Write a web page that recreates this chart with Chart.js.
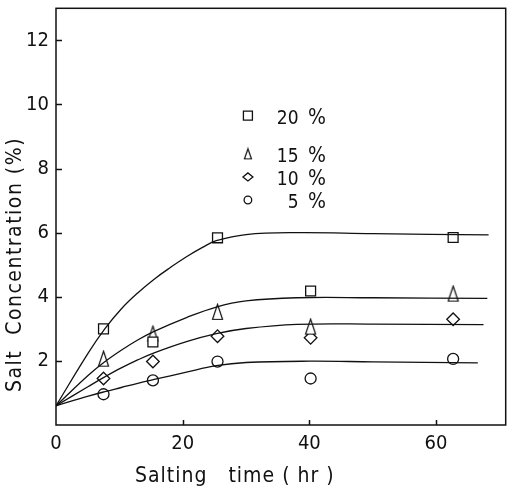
<!DOCTYPE html>
<html>
<head>
  <meta charset="utf-8">
  <title>Salt concentration</title>
  <style>
    body { margin: 0; background: #fff; }
  </style>
</head>
<body>
<canvas id="saltChart" width="514" height="489"></canvas>
<script src="https://cdn.jsdelivr.net/npm/chart.js"></script>
<script type="text/javascript">
    // measured points: salting time (hr) vs salt concentration (%)
    const brineLabels = ['20', '15', '10', '5'];
    const sampleTimes = [7.5, 15.3, 25.5, 40.2, 62.7];
    const salt20 = [3.0, 2.59, 5.84, 4.18, 5.85];
    const salt15 = [2.07, 2.85, 3.53, 3.07, 4.1];
    const salt10 = [1.45, 1.98, 2.77, 2.72, 3.3];
    const salt5 = [0.96, 1.39, 1.98, 1.45, 2.06];

    // fitted curves
    const curve20x = [0, 5.1, 7.7, 10.3, 12.9, 15.5, 18.1, 20.6, 23.2, 25.3, 30, 38, 50, 68.3];
    const curve20y = [0.6, 2.25, 3.0, 3.62, 4.12, 4.55, 4.92, 5.25, 5.55, 5.75, 5.94, 6.0, 5.97, 5.93];
    const curve15x = [0, 5.1, 7.7, 10.3, 12.9, 15.5, 20.6, 25.3, 30, 38, 50, 68.1];
    const curve15y = [0.6, 1.55, 1.97, 2.33, 2.65, 2.92, 3.35, 3.68, 3.87, 3.97, 3.97, 3.95];
    const curve10x = [0, 5.1, 7.7, 10.3, 12.9, 15.5, 20.6, 25.3, 30, 38, 50, 67.5];
    const curve10y = [0.6, 1.2, 1.5, 1.78, 2.03, 2.25, 2.6, 2.85, 3.01, 3.14, 3.15, 3.13];
    const curve5x = [0, 5.1, 7.7, 10.3, 12.9, 15.5, 20.6, 25.3, 30, 40, 50, 66.6];
    const curve5y = [0.6, 0.9, 1.04, 1.17, 1.3, 1.42, 1.65, 1.85, 1.95, 1.99, 1.97, 1.94];

    // axis ranges / ticks
    const xMax = 71, xStep = 20;
    const yMax = 13, yStep = 2;

    const FONT = "'DejaVu Sans Condensed', 'Liberation Sans Narrow', sans-serif";
    const INK = '#111';

    // tall open triangle, the library's own one is too squat
    function triangleMark(w, h) {
      const c = document.createElement('canvas');
      c.width = w + 3; c.height = h + 3;
      const g = c.getContext('2d');
      g.beginPath();
      g.moveTo(c.width / 2, 1.5);
      g.lineTo(c.width - 1.5, c.height - 1.5);
      g.lineTo(1.5, c.height - 1.5);
      g.closePath();
      g.fillStyle = '#fff';
      g.fill();
      g.lineWidth = 1.2;
      g.strokeStyle = INK;
      g.stroke();
      return c;
    }
    const bigTri = triangleMark(10, 15);
    const smallTri = triangleMark(7, 10);

    const pairs = (xs, ys) => xs.map((v, i) => ({x: v, y: ys[i]}));

    function curve(xs, ys) {
      return {
        type: 'line', data: pairs(xs, ys),
        borderColor: INK, borderWidth: 1.3, pointRadius: 0,
        tension: 0.4, fill: false
      };
    }
    function marks(ys, style, r) {
      return {
        type: 'line', data: pairs(sampleTimes, ys), showLine: false,
        pointStyle: style, pointRadius: r, borderColor: INK, borderWidth: 1.3,
        pointBackgroundColor: '#fff', pointBorderColor: INK
      };
    }

    // legend, titles, frame and inward ticks
    const decor = {
      id: 'decor',
      afterDraw(chart) {
        const {ctx, chartArea: a, scales: {x, y}} = chart;
        ctx.save();
        ctx.strokeStyle = INK;
        ctx.lineWidth = 1.5;
        ctx.strokeRect(a.left, a.top, a.right - a.left, a.bottom - a.top);
        ctx.beginPath();
        y.ticks.forEach(t => {
          if (t.value > 0 && t.value <= 12) {
            const py = Math.round(y.getPixelForValue(t.value)) + 0.5;
            ctx.moveTo(a.left, py); ctx.lineTo(a.left + 6, py);
          }
        });
        x.ticks.forEach(t => {
          if (t.value > 0) {
            const px = Math.round(x.getPixelForValue(t.value)) + 0.5;
            ctx.moveTo(px, a.bottom); ctx.lineTo(px, a.bottom - 5);
          }
        });
        ctx.stroke();

        // legend block
        const legY = [9.65, 8.46, 7.74, 7.02];
        const mx = x.getPixelForValue(30.3);
        const numX = x.getPixelForValue(38.3);
        const pctX = x.getPixelForValue(39.8);
        ctx.lineWidth = 1.3;
        ctx.fillStyle = INK;
        ctx.textBaseline = 'middle';
        legY.forEach((v, i) => {
          const py = y.getPixelForValue(v);
          ctx.beginPath();
          if (i === 0) ctx.rect(mx - 4.5, py - 4.5, 9, 9);
          if (i === 2) { ctx.moveTo(mx - 5, py); ctx.lineTo(mx, py - 4); ctx.lineTo(mx + 5, py); ctx.lineTo(mx, py + 4); ctx.closePath(); }
          if (i === 3) ctx.arc(mx, py, 3.8, 0, Math.PI * 2);
          if (i === 1) ctx.drawImage(smallTri, mx - smallTri.width / 2, py - smallTri.height / 2);
          else ctx.stroke();
          ctx.font = '19px ' + FONT;
          ctx.textAlign = 'right';
          ctx.fillText(brineLabels[i], numX, py + 3);
          ctx.font = '21px ' + FONT;
          ctx.textAlign = 'left';
          ctx.fillText('%', pctX, py + 3);
        });

        // axis titles
        ctx.font = '21px ' + FONT;
        ctx.textBaseline = 'alphabetic';
        ctx.textAlign = 'left';
        ctx.letterSpacing = '1px';
        ctx.fillText('Salting   time ( hr )', 135, 482);
        ctx.translate(21, 392);
        ctx.rotate(-Math.PI / 2);
        ctx.letterSpacing = '1.5px';
        ctx.fillText('Salt  Concentration (%)', 0, 0);
        ctx.restore();
      }
    };

    const data = {
      datasets: [
        curve(curve20x, curve20y),
        curve(curve15x, curve15y),
        curve(curve10x, curve10y),
        curve(curve5x, curve5y),
        marks(salt20, 'rect', 7),
        marks(salt15, bigTri, 7),
        marks(salt10, 'rectRot', 6.3),
        marks(salt5, 'circle', 5.5)
      ]
    };

    const config = {
      type: 'line',
      data: data,
      plugins: [decor],
      options: {
        responsive: false,
        animation: false,
        devicePixelRatio: 1,
        layout: { padding: { left: 0, top: 5, right: 2, bottom: 0 } },
        plugins: { legend: { display: false }, tooltip: { enabled: false } },
        scales: {
          x: {
            type: 'linear', min: 0, max: xMax,
            grid: { display: false, drawTicks: false },
            border: { display: false },
            ticks: {
              stepSize: xStep, includeBounds: false, padding: 7,
              color: INK, font: { family: FONT, size: 20 }, maxRotation: 0
            },
            afterFit(s) { s.height = 64; s.paddingLeft = 0; s.paddingRight = 0; }
          },
          y: {
            type: 'linear', min: 0, max: yMax,
            grid: { display: false, drawTicks: false },
            border: { display: false },
            ticks: {
              stepSize: yStep, includeBounds: false, padding: 7,
              color: INK, font: { family: FONT, size: 20 },
              callback: v => (v > 0 && v <= 12) ? v : ''
            },
            afterFit(s) { s.width = 56; s.paddingTop = 0; s.paddingBottom = 0; }
          }
        }
      }
    };

    const saltChart = new Chart(document.getElementById('saltChart'), config);
</script>
</body>
</html>
